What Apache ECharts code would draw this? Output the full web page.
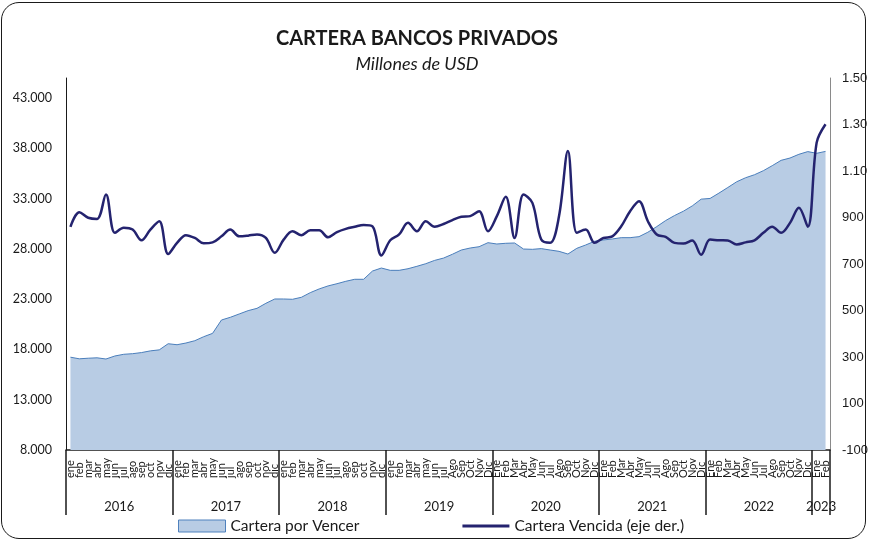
<!DOCTYPE html>
<html>
<head>
<meta charset="utf-8">
<script src="https://cdn.jsdelivr.net/npm/echarts@6/dist/echarts.min.js"></script>
<style>
html,body{margin:0;padding:0;background:#fff;}
#chart{position:absolute;left:0;top:0;width:871px;height:542px;}
#frame{position:absolute;left:1px;top:2px;width:863px;height:535px;border:1.5px solid #1a1a1a;border-radius:18px;pointer-events:none;}
</style>
</head>
<body>
<div id="chart"></div>
<div id="frame"></div>
<script>
// ---- data ----
const months2016 = ['ene','feb','mar','abr','may','jun','jul','ago','sep','oct','nov','dic'];
const months2017 = ['ene','feb','mar','abr','may','jun','jul','ago','sep','oct','nov','dic'];
const months2018 = ['ene','feb','mar','abr','may','jun','jul','ago','sep','oct','nov','dic'];
const months2019 = ['ene','feb','mar','abr','may','jun','jul','Ago','Sep','Oct','Nov','Dic'];
const months2020 = ['Ene','Feb','Mar','Abr','May','Jun','Jul','Ago','Sep','Oct','Nov','Dic'];
const months2021 = ['Ene','Feb','Mar','Abr','May','Jun','Jul','Ago','Sep','Oct','Nov','Dic'];
const months2022 = ['Ene','Feb','Mar','Abr','May','Jun','Jul','Ago','Sep','Oct','Nov','Dic'];
const months2023 = ['Ene','Feb'];
const categories = [].concat(months2016, months2017, months2018, months2019, months2020, months2021, months2022, months2023);

const years = ['2016','2017','2018','2019','2020','2021','2022','2023'];
const yearLabelPos = [6, 18, 30, 42, 54, 66, 78, 85];
const yearBounds = [0, 12, 24, 36, 48, 60, 72, 84, 86];

// Cartera por Vencer (millones USD, eje izq.)
const porVencer = [
  17230, 17070, 17130, 17170, 17050, 17350, 17520, 17580, 17690, 17860, 17960, 18570,
  18470, 18640, 18870, 19270, 19600, 20930, 21200, 21530, 21860, 22090, 22590, 23020,
  23020, 22990, 23190, 23650, 24020, 24320, 24540, 24780, 24980, 24980, 25800, 26100,
  25870, 25870, 26030, 26270, 26530, 26860, 27090, 27470, 27890, 28090, 28220, 28620,
  28490, 28560, 28590, 27990, 27960, 28030, 27890, 27760, 27490, 28060, 28390, 28760,
  28890, 28990, 29120, 29120, 29220, 29660, 30220, 30820, 31320, 31750, 32280, 32950,
  33020, 33550, 34110, 34680, 35080, 35380, 35780, 36280, 36810, 37040, 37410, 37680,
  37510, 37700
];
// Cartera Vencida (millones USD, eje der.)
const vencida = [
  860, 923, 899, 894, 999, 834, 856, 848, 802, 848, 884, 743,
  791, 824, 812, 789, 793, 819, 848, 819, 822, 827, 812, 748,
  805, 841, 824, 845, 845, 815, 837, 851, 860, 868, 862, 737,
  802, 827, 877, 841, 884, 860, 872, 889, 903, 906, 927, 841,
  906, 989, 812, 999, 963, 805, 791, 906, 1186, 834, 848, 791,
  812, 819, 862, 927, 970, 884, 827, 817, 791, 788, 801, 740,
  805, 802, 801, 784, 793, 802, 834, 860, 834, 877, 942, 860,
  1222, 1301
];
const leftTicks = [8000, 13000, 18000, 23000, 28000, 33000, 38000, 43000];
const rightTicks = [-100, 100, 300, 500, 700, 900, 1100, 1300, 1500];

// ---- chart ----
const chart = echarts.init(document.getElementById('chart'));
const fmtThousands = v => String(v).replace(/\B(?=(\d{3})+(?!\d))/g, '.');

chart.setOption({
  animation: false,
  backgroundColor: 'transparent',
  title: {
    text: 'CARTERA BANCOS PRIVADOS',
    subtext: 'Millones de USD',
    left: 412,
    textAlign: 'center',
    top: 24,
    itemGap: 6,
    textStyle: {fontFamily: 'Lato', fontWeight: 'bold', fontSize: 20, color: '#1a1a1a'},
    subtextStyle: {fontFamily: 'Lato', fontStyle: 'italic', fontSize: 18, color: '#1a1a1a'}
  },
  legend: {
    left: 173,
    top: 513,
    itemWidth: 47,
    itemHeight: 12,
    itemGap: 103,
    textStyle: {fontFamily: 'Lato', fontSize: 15.5, color: '#1a1a1a'},
    data: [
      {name: 'Cartera por Vencer', icon: 'rect', itemStyle: {color: '#B8CCE4', borderColor: '#4F81BD', borderWidth: 1}},
      {name: 'Cartera Vencida (eje der.)', icon: 'path://M0,0L47,0L47,3L0,3Z', itemStyle: {color: '#24236F'}}
    ]
  },
  grid: {left: 66, right: 39.6, top: 78, bottom: 92, containLabel: false},
  xAxis: [
    {
      type: 'category',
      data: categories,
      boundaryGap: true,
      axisLine: {show: true, onZero: false, lineStyle: {color: '#1a1a1a', width: 1.5}},
      axisTick: {show: false},
      axisLabel: {
        rotate: 90, interval: 0, align: 'left', margin: 28,
        fontFamily: 'Lato', fontSize: 11, color: '#1a1a1a'
      },
      splitLine: {show: false}
    },
    {
      type: 'value',
      position: 'bottom',
      min: 0, max: 86,
      axisLine: {show: false, onZero: false},
      splitLine: {show: false},
      axisTick: {show: true, length: 65, customValues: yearBounds, lineStyle: {color: '#1a1a1a', width: 1.5}},
      axisLabel: {
        customValues: yearLabelPos, margin: 50,
        fontFamily: 'Lato', fontSize: 13, color: '#1a1a1a',
        formatter: v => years[yearLabelPos.indexOf(v)] || ''
      }
    }
  ],
  yAxis: [
    {
      type: 'value',
      min: 8000, max: 45000,
      position: 'left',
      axisLine: {show: true, onZero: false, lineStyle: {color: '#1a1a1a', width: 1}},
      axisTick: {show: false},
      splitLine: {show: false},
      axisLabel: {
        customValues: leftTicks, margin: 14,
        fontFamily: 'Lato', fontSize: 12.5, color: '#1a1a1a',
        formatter: v => fmtThousands(v)
      }
    },
    {
      type: 'value',
      min: -100, max: 1500,
      position: 'right',
      axisLine: {show: true, onZero: false, lineStyle: {color: '#8a8a8a', width: 1}},
      axisTick: {show: false},
      splitLine: {show: false},
      axisLabel: {
        customValues: rightTicks, margin: 12,
        fontFamily: 'Liberation Sans', fontSize: 13, color: '#1a1a1a',
        formatter: v => v >= 1000 ? (v / 1000).toFixed(2) : String(v)
      }
    }
  ],
  series: [
    {
      name: 'Cartera por Vencer',
      type: 'line',
      xAxisIndex: 0, yAxisIndex: 0,
      data: porVencer,
      symbol: 'none',
      lineStyle: {color: '#4A7EBB', width: 1},
      itemStyle: {color: '#B8CCE4'},
      areaStyle: {color: '#B8CCE4', opacity: 1}
    },
    {
      name: 'Cartera Vencida (eje der.)',
      type: 'line',
      xAxisIndex: 0, yAxisIndex: 1,
      data: vencida,
      smooth: 0.35,
      symbol: 'none',
      lineStyle: {color: '#24236F', width: 2.5},
      itemStyle: {color: '#24236F'}
    }
  ]
});
</script>
</body>
</html>
